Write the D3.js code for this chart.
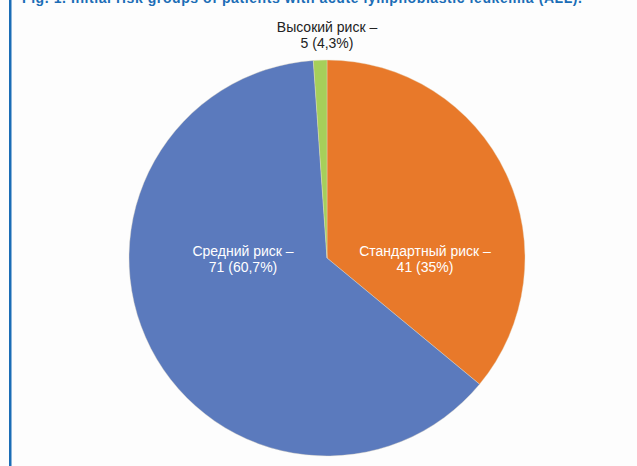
<!DOCTYPE html>
<head>
  <meta charset="utf-8">
  <title>Risk groups pie</title>
  <script src="https://d3js.org/d3.v7.min.js"></script>
  <style type="text/css">
    body { margin: 0; background: #fdfdfd; }
    svg { display: block; }
    .title { font: bold 14px "Liberation Sans", Arial, sans-serif; fill: #1b6db6; }
    .lbl { font: 14px "Liberation Sans", Arial, sans-serif; }
  </style>
</head>
<body>
  <div id="graph-container"></div>
<script>
// ---- data ----
let groups = ["Стандартный риск –", "Средний риск –", "Высокий риск –"];
let counts = ["41 (35%)", "71 (60,7%)", "5 (4,3%)"];
// slice shares as actually drawn in the picture (percent of circle)
let shares = [36.0, 62.9, 1.1];
let colors = ["#e8792a", "#5b7abd", "#a6cf5a"];
let labelColors = ["#ffffff", "#ffffff", "#222222"];

let width = 637, height = 466,
    cx = 327, cy = 258, radius = 198;

let svg = d3.select("#graph-container").append("svg")
    .attr("width", width)
    .attr("height", height);

// left frame rule
svg.append("rect")
  .attr("x", 9).attr("y", 0)
  .attr("width", 2.5).attr("height", height)
  .attr("fill", "#1b6db6");

// caption, cut off at the top edge as in the source scan
svg.append("text")
  .attr("class", "title")
  .attr("x", 22).attr("y", 3)
  .attr("textLength", 560)
  .text("Fig. 1. Initial risk groups of patients with acute lymphoblastic leukemia (ALL).");

let pie = d3.pie().sort(null).value(d => d);
let arc = d3.arc().innerRadius(0).outerRadius(radius);

let g = svg.append("g")
  .attr("transform", "translate(" + cx + "," + cy + ")");

g.selectAll("path")
  .data(pie(shares))
  .enter().append("path")
    .attr("d", arc)
    .attr("fill", (d, i) => colors[i])
    .attr("stroke", "#e6dcc4")
    .attr("stroke-width", 0.4);

// label positions relative to the centre
let labelPos = [[98, -2], [-84, -2], [0, -226]];

groups.forEach((name, i) => {
  let t = g.append("text")
    .attr("class", "lbl")
    .attr("text-anchor", "middle")
    .attr("fill", labelColors[i])
    .attr("transform", "translate(" + labelPos[i][0] + "," + labelPos[i][1] + ")");
  t.append("tspan").attr("x", 0).attr("y", 0).text(name);
  t.append("tspan").attr("x", 0).attr("y", 16).text(counts[i]);
});
</script>
</body>
